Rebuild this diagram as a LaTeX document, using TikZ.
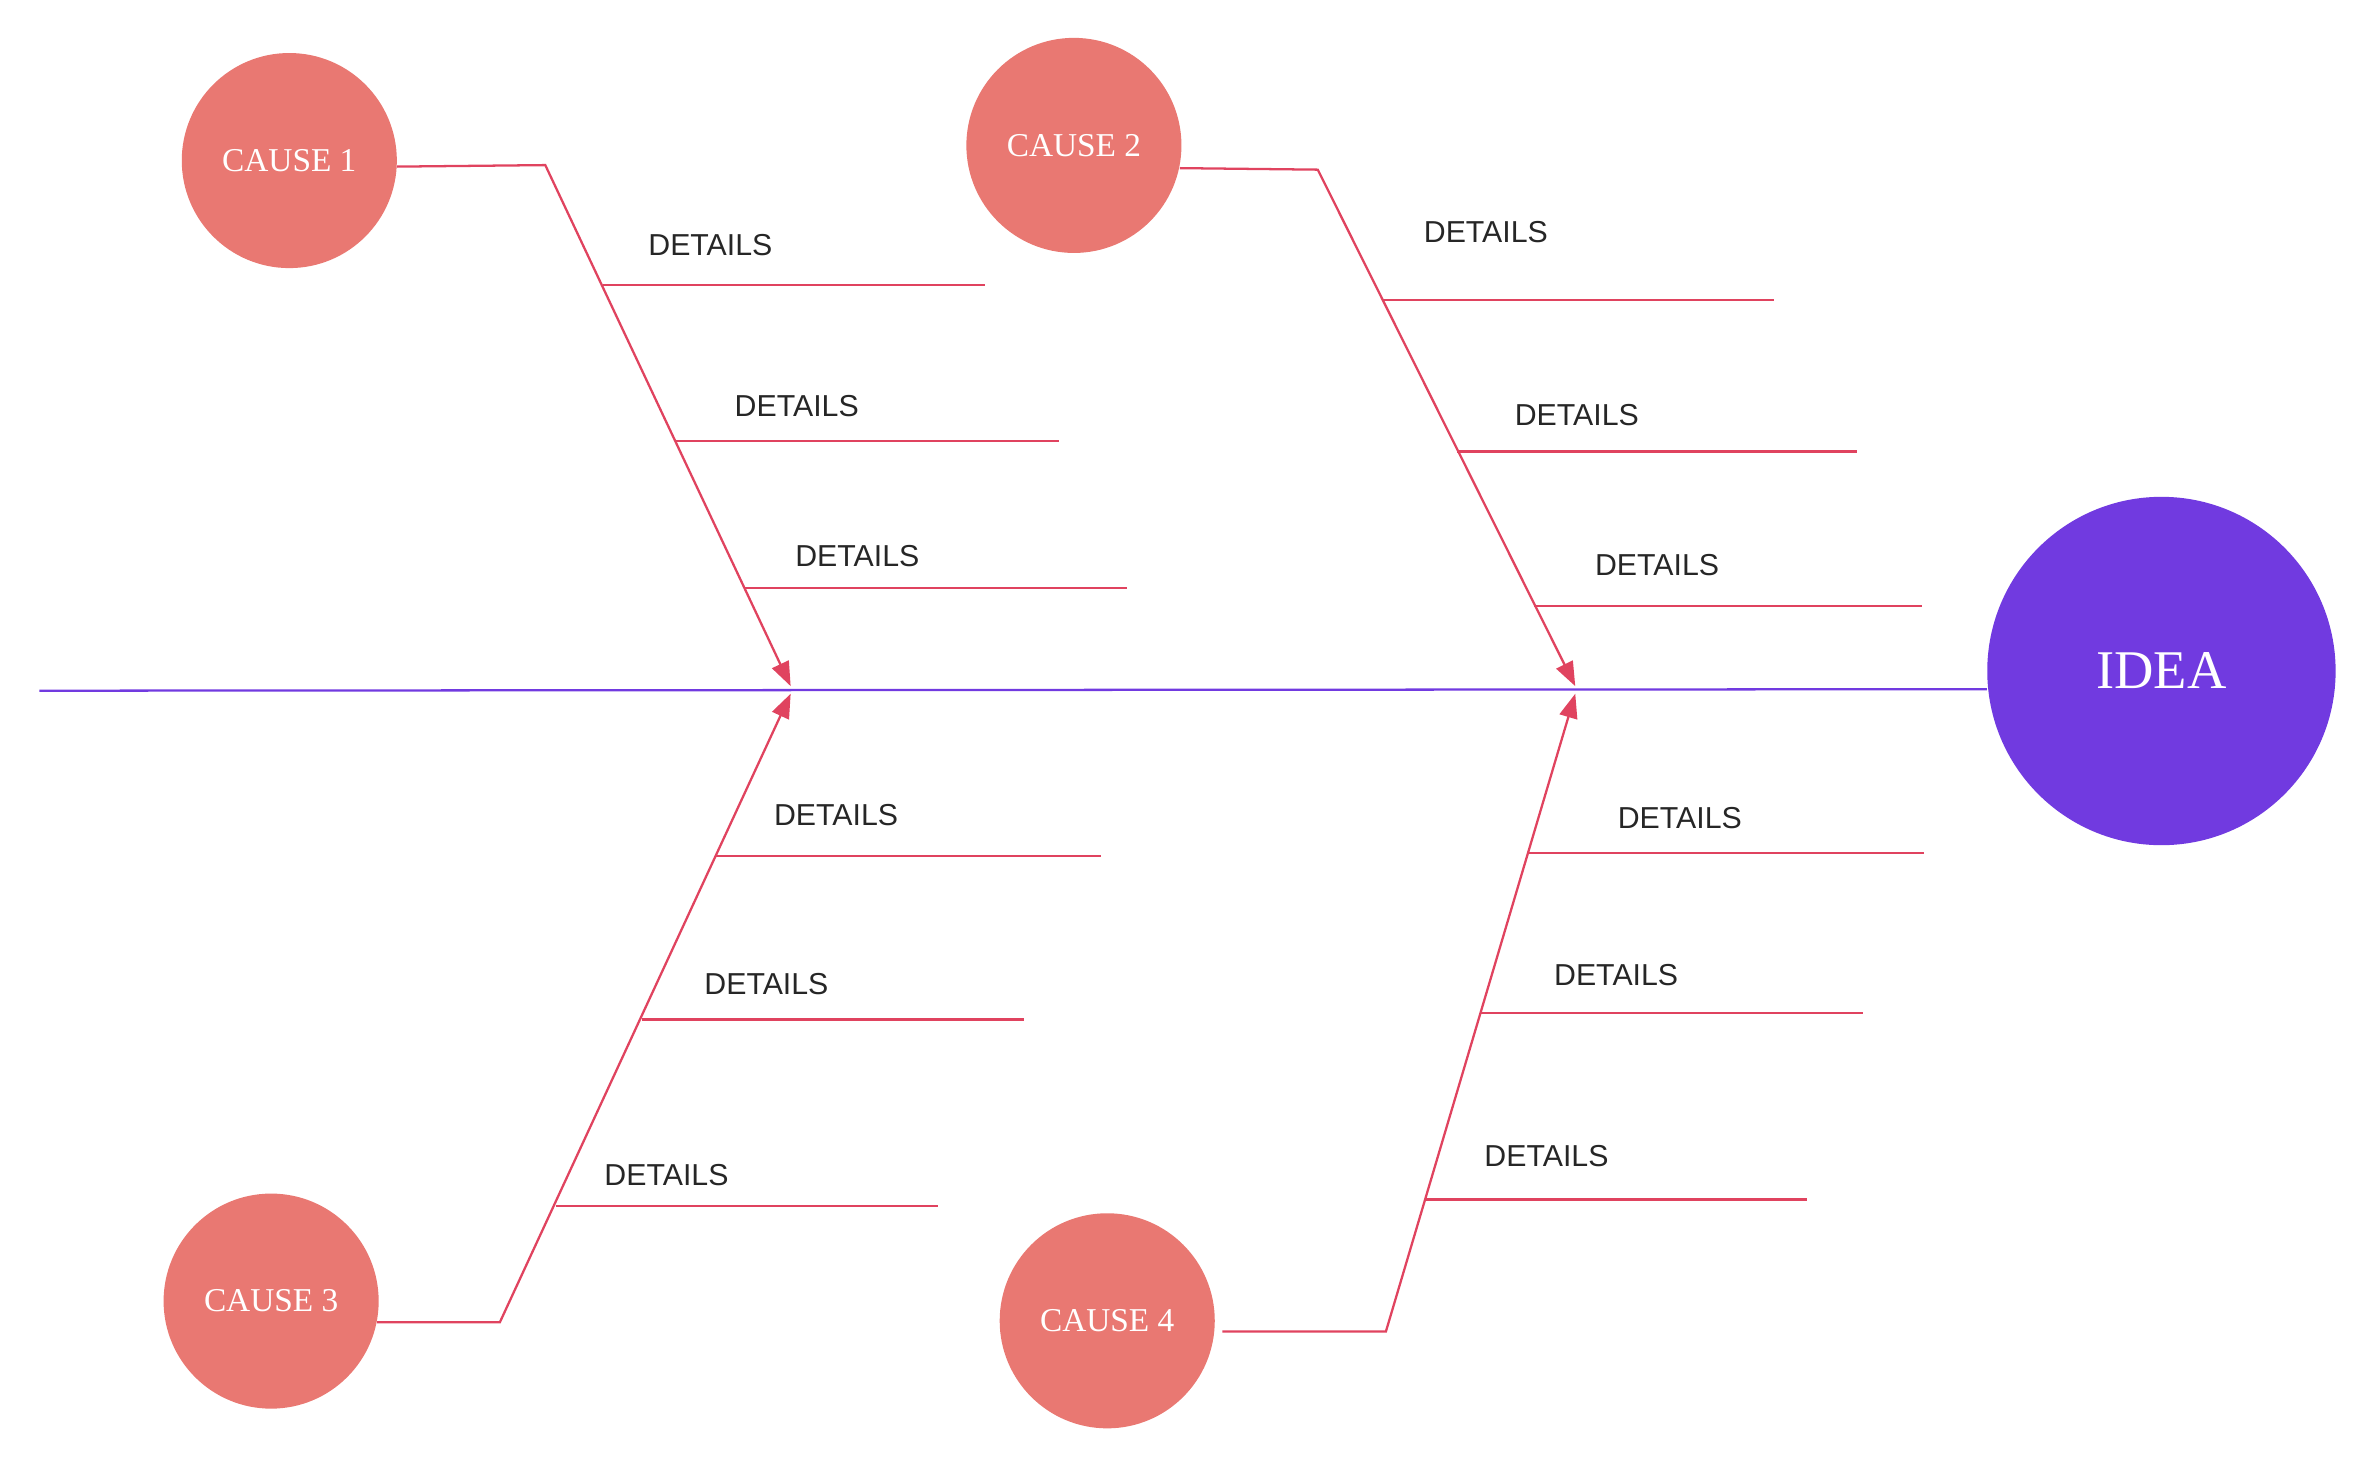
\documentclass[tikz,border=0pt]{standalone}
\usepackage{fontspec}
\setmainfont{Liberation Serif}
\newfontfamily\detfont{Liberation Sans}
\usetikzlibrary{arrows.meta}
\definecolor{causec}{HTML}{E97872}
\definecolor{linec}{HTML}{E0435F}
\definecolor{ideac}{HTML}{713AE0}
\begin{document}
\begin{tikzpicture}[x=1pt,y=-1pt,
 cause/.style={circle,fill=causec,minimum size=142pt,inner sep=0pt,text=white,font=\fontsize{22}{24}\selectfont},
 bone/.style={draw=linec,line width=1.5pt},
 arr/.style={bone,-{Triangle[length=16pt,width=12pt]}},
 det/.style={font=\detfont\fontsize{20}{22}\selectfont,text=black!85,inner sep=0pt}]
\useasboundingbox (0,0) rectangle (1568,969);
\node[cause] (c1) at (191,106) {CAUSE 1};
\node[cause] (c2) at (709,96) {CAUSE 2};
\node[cause] (c3) at (179,859) {CAUSE 3};
\node[cause] (c4) at (731,872) {CAUSE 4};
\node[circle,fill=ideac,minimum size=230pt,inner sep=0pt,text=white,font=\fontsize{36}{40}\selectfont] (idea) at (1427,443) {IDEA};
\coordinate (s0) at (26,456);
\draw[draw=ideac,line width=1.5pt] (s0) -- (idea.west |- 0,455);
\coordinate (b1) at (360,109); \coordinate (t1) at (522,453);
\coordinate (b2) at (870,112); \coordinate (t2) at (1040,453);
\coordinate (b3) at (330,873); \coordinate (t3) at (522,458);
\coordinate (b4) at (915,879); \coordinate (t4) at (1040,458);
\draw[arr] (262,110) -- (b1) -- (t1);
\draw[arr] (779,111) -- (b2) -- (t2);
\draw[arr] (249,873) -- (b3) -- (t3);
\draw[arr] (807,879) -- (b4) -- (t4);
\foreach \a/\b/\c/\lx/\ly in {398/650/188/469/162, 446/699/291/526/268, 491/744/388/566/367,
  913/1171/198/981/153, 962/1226/298/1041/274, 1013/1269/400/1094/373,
  473/727/565/552/538, 424/676/673/506/650, 367/619/796/440/776,
  1008/1270/563/1109/540, 977/1230/669/1067/644, 941/1193/792/1021/763}{
  \coordinate (p1) at (\a,\c); \coordinate (p2) at (\b,\c);
  \draw[bone] (p1) -- (p2);
  \node[det] (l\a) at (\lx,\ly) {DETAILS};
}
\end{tikzpicture}
\end{document}
